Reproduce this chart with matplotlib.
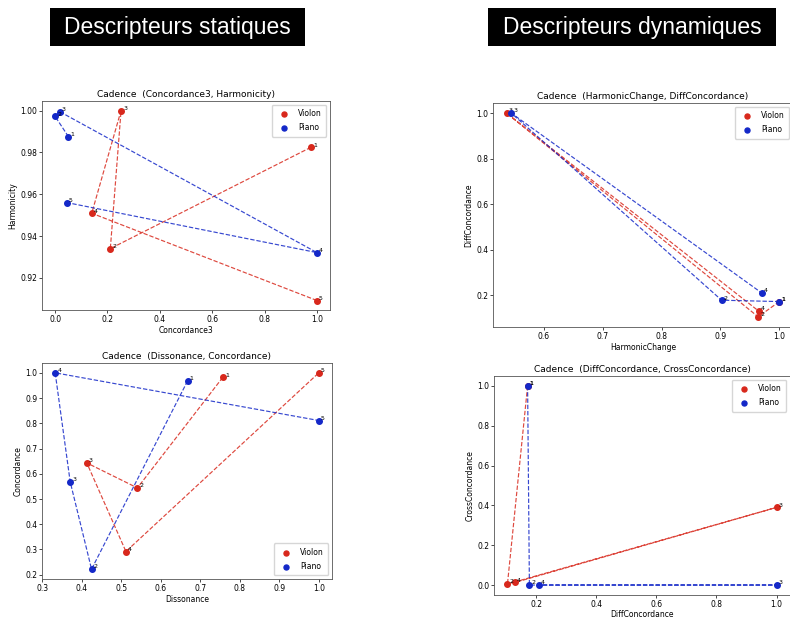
import matplotlib
matplotlib.use("Agg")
import matplotlib.pyplot as plt
from matplotlib.patches import Rectangle

# Static descriptors, chords 1..5
conc3_violon = [0.977, 0.211, 0.252, 0.140, 1.000]
harm_violon = [0.9824, 0.9340, 1.0000, 0.9509, 0.9092]
conc3_piano = [0.051, 0.000, 0.017, 1.000, 0.045]
harm_piano = [0.9875, 0.9972, 0.9995, 0.9321, 0.9560]

diss_violon = [0.757, 0.541, 0.413, 0.512, 1.000]
conc_violon = [0.982, 0.544, 0.643, 0.292, 1.000]
diss_piano = [0.668, 0.425, 0.371, 0.333, 1.000]
conc_piano = [0.968, 0.222, 0.568, 1.000, 0.811]

# Dynamic descriptors, transitions 1..4
hchange_violon = [1.000, 0.964, 0.537, 0.965]
diffconc_violon = [0.172, 0.105, 1.000, 0.130]
hchange_piano = [1.000, 0.902, 0.545, 0.970]
diffconc_piano = [0.172, 0.178, 1.000, 0.210]

cross_violon = [1.000, 0.005, 0.390, 0.013]
cross_piano = [1.000, 0.000, 0.000, 0.000]

series_names = ["Violon", "Piano"]
headers = ["Descripteurs statiques", "Descripteurs dynamiques"]

RED = "#d8281c"
BLUE = "#1428c8"

W, H = 790, 619
fig = plt.figure(figsize=(W / 100, H / 100), dpi=100)


def px_axes(x0, y0, x1, y1):
    return fig.add_axes([x0 / W, 1 - y1 / H, (x1 - x0) / W, (y1 - y0) / H])


def panel(ax, title, xlabel, ylabel, data, loc, xlabelpad=1.5):
    for (xs, ys), color, name in zip(data, [RED, BLUE], series_names):
        ax.plot(xs, ys, "--", color=color, lw=0.85, alpha=0.85)
        ax.scatter(xs, ys, color=color, s=16, label=name, zorder=3)
        for i, (x, y) in enumerate(zip(xs, ys), start=1):
            ax.annotate(str(i), (x, y), xytext=(1.5, 0.5),
                        textcoords="offset points", fontsize=4.5)
    ax.set_title(title, fontsize=6.5, pad=3)
    ax.set_xlabel(xlabel, fontsize=5.5, labelpad=xlabelpad)
    ax.set_ylabel(ylabel, fontsize=5.5, labelpad=2)
    ax.tick_params(labelsize=5.5, length=2, width=0.5, pad=1.5)
    for s in ax.spines.values():
        s.set_linewidth(0.6)
        s.set_color("#555555")
    ax.legend(loc=loc, fontsize=5.5, markerscale=0.9, handletextpad=0.8,
              borderpad=0.6, labelspacing=0.6)


ax1 = px_axes(42, 101, 330, 310)
panel(ax1, "Cadence  (Concordance3, Harmonicity)", "Concordance3", "Harmonicity",
      [(conc3_violon, harm_violon), (conc3_piano, harm_piano)], "upper right")
ax1.set_yticks([0.92, 0.94, 0.96, 0.98, 1.00])

ax2 = px_axes(493, 103, 793, 327)
panel(ax2, "Cadence  (HarmonicChange, DiffConcordance)", "HarmonicChange", "DiffConcordance",
      [(hchange_violon, diffconc_violon), (hchange_piano, diffconc_piano)], "upper right")
ax2.set_xticks([0.6, 0.7, 0.8, 0.9, 1.0])

ax3 = px_axes(42, 363, 332, 579)
panel(ax3, "Cadence  (Dissonance, Concordance)", "Dissonance", "Concordance",
      [(diss_violon, conc_violon), (diss_piano, conc_piano)], "lower right")

ax4 = px_axes(494, 376, 790, 595)
panel(ax4, "Cadence  (DiffConcordance, CrossConcordance)", "DiffConcordance", "CrossConcordance",
      [(diffconc_violon, cross_violon), (diffconc_piano, cross_piano)], "upper right",
      xlabelpad=0.5)

# Section headers: white text on black boxes
for text, (x0, x1) in zip(headers, [(50, 305), (488, 776)]):
    fig.patches.append(Rectangle((x0 / W, 1 - 46 / H), (x1 - x0) / W, 38 / H,
                                 transform=fig.transFigure, facecolor="black",
                                 edgecolor="none", zorder=5))
    fig.text((x0 + x1) / 2 / W, 1 - 27.5 / H, text, color="white",
             fontsize=16.5, family=["Liberation Sans", "DejaVu Sans"],
             ha="center", va="center", zorder=6)

fig.savefig("out.png", dpi=100)
